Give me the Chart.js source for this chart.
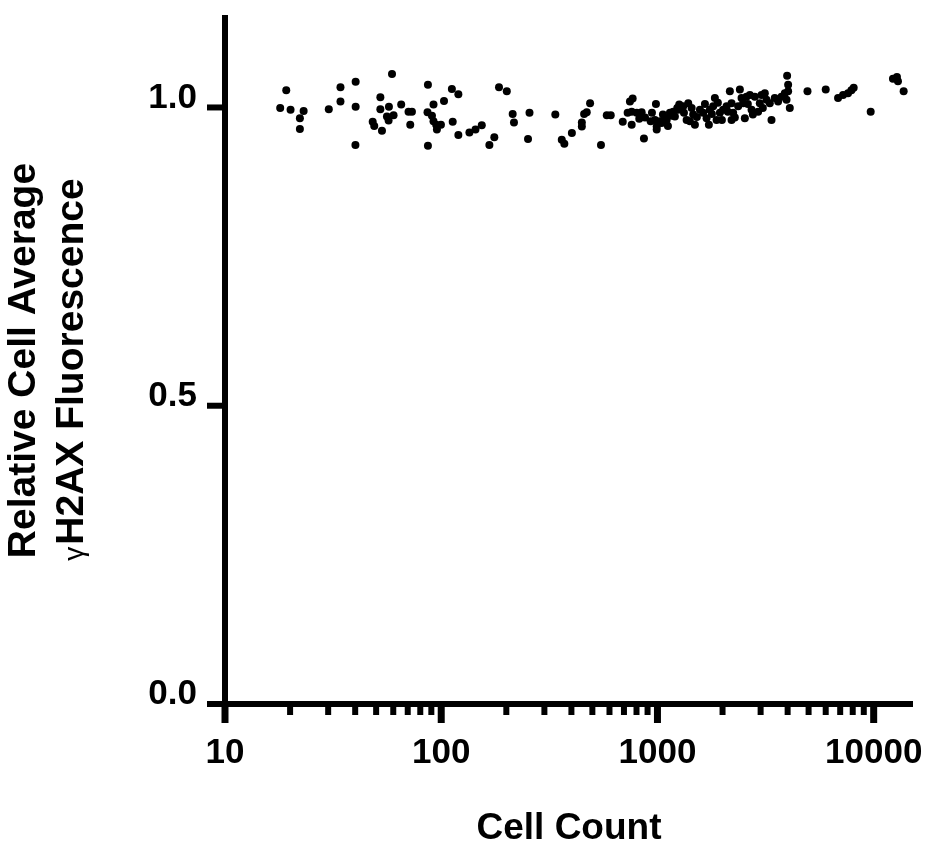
<!DOCTYPE html>
<html>
<head>
<meta charset="utf-8">
<script src="https://cdn.jsdelivr.net/npm/chart.js@4/dist/chart.umd.min.js"></script>
<style>
  html, body { margin: 0; padding: 0; background: #fff; }
  canvas { display: block; }
</style>
</head>
<body>
<canvas id="c" width="929" height="848"></canvas>
<script>
// ---- Data ----
const cellCounts = [
  19.2, 18.0, 20.1, 23.1, 22.2, 22.2, 30.2, 34.2, 34.2, 40.2,
  40.2, 40.1, 59.2, 52.3, 52.3, 57.3, 65.3, 48.2, 49.0, 53.2,
  56.1, 57.1, 60.2, 70.6, 73.2, 71.9, 86.8, 92.1, 86.4, 90.6,
  92.1, 94.8, 95.5, 99.7, 86.8, 103, 112, 120, 113, 120,
  135, 144, 154, 176, 167, 185, 201, 214, 217, 256,
  252, 337, 361, 371, 402, 447, 447, 458, 471, 488,
  548, 583, 608, 746, 768, 728, 760, 802, 845, 691,
  760, 824, 866, 984, 930, 974, 1027, 992, 992, 1046,
  1103, 1163, 1183, 1235, 1261, 1083, 1142, 1204, 1248, 1316,
  1388, 1439, 1463, 1413, 1490, 1364, 1627, 1687, 1748, 1810,
  1843, 1877, 1944, 2013, 2088, 2162, 2201, 2239, 2201, 2362,
  2405, 2449, 2491, 2536, 2582, 2675, 2724, 2821, 2921, 2974,
  3028, 3137, 3194, 3308, 3369, 3488, 3614, 3748, 3881, 3953,
  3978, 4021, 4021, 4093, 4941, 6001, 6842, 7216, 7609, 7888,
  8083, 9687, 12280, 12810, 12950, 13760,
  876, 943, 1060, 1118, 1326, 1522, 1572, 1658, 1729, 1785,
  1903, 1986, 2117, 2280, 2618, 2762, 3071
];
const fluorescence = [
  1.029, 0.999, 0.996, 0.994, 0.982, 0.964, 0.997, 1.034, 1.010, 1.043,
  1.001, 0.937, 1.056, 1.017, 0.997, 1.001, 1.005, 0.976, 0.969, 0.961,
  0.985, 0.978, 0.987, 0.993, 0.993, 0.971, 1.038, 1.005, 0.992, 0.986,
  0.977, 0.971, 0.963, 0.971, 0.936, 1.011, 1.031, 1.022, 0.976, 0.954,
  0.958, 0.963, 0.970, 0.950, 0.937, 1.034, 1.027, 0.989, 0.975, 0.991,
  0.947, 0.988, 0.946, 0.939, 0.957, 0.975, 0.968, 0.989, 0.992, 1.007,
  0.937, 0.987, 0.987, 1.010, 1.015, 0.991, 0.993, 0.991, 0.992, 0.976,
  0.971, 0.981, 0.948, 1.006, 0.977, 0.979, 0.977, 0.968, 0.963, 0.974,
  0.979, 0.986, 0.993, 0.999, 1.005, 0.982, 0.991, 0.985, 0.996, 1.002,
  1.007, 0.999, 0.988, 0.977, 0.971, 0.979, 0.991, 0.982, 0.996, 1.002,
  1.016, 0.979, 0.991, 0.996, 1.002, 1.027, 1.007, 0.991, 0.979, 1.002,
  1.030, 1.016, 1.007, 0.982, 1.018, 1.021, 0.996, 1.018, 0.993, 1.007,
  1.021, 1.024, 1.013, 1.007, 0.979, 1.016, 1.010, 1.018, 1.024, 1.013,
  1.053, 1.038, 1.027, 0.999, 1.027, 1.030, 1.016, 1.021, 1.024, 1.029,
  1.033, 0.993, 1.048, 1.051, 1.044, 1.027,
  0.983, 0.991, 0.988, 0.969, 0.991, 0.984, 0.996, 1.006, 0.971, 0.989,
  1.008, 0.979, 0.993, 0.983, 1.006, 0.988, 0.999
];
const xTickValues = [10, 100, 1000, 10000];
const xTickLabels = ['10', '100', '1000', '10000'];
const xMinorTicks = [20, 30, 40, 50, 60, 70, 80, 90,
                     200, 300, 400, 500, 600, 700, 800, 900,
                     2000, 3000, 4000, 5000, 6000, 7000, 8000, 9000];
const yTickValues = [0, 0.5, 1.0];
const yTickLabels = ['0.0', '0.5', '1.0'];
const xTitle = 'Cell Count';
const yTitleLine1 = 'Relative Cell Average';
const yTitleGreek = 'γ';
const yTitleLine2 = 'H2AX Fluorescence';

// ---- Chart ----
const FONT = '"Liberation Sans", Arial, Helvetica, sans-serif';
Chart.defaults.font.family = FONT;
Chart.defaults.color = '#000';

const prismAxes = {
  id: 'prismAxes',
  afterDraw(chart) {
    const { ctx, chartArea: a, scales: { x, y } } = chart;
    ctx.save();
    ctx.strokeStyle = '#000';
    ctx.lineCap = 'butt';
    ctx.lineWidth = 6;
    // y axis line (continues below as the first x major tick)
    ctx.beginPath();
    ctx.moveTo(a.left, a.top);
    ctx.lineTo(a.left, a.bottom + 19);
    ctx.stroke();
    // x axis line (continues left as the 0.0 tick)
    ctx.beginPath();
    ctx.moveTo(a.left - 18, a.bottom);
    ctx.lineTo(a.right, a.bottom);
    ctx.stroke();
    // y ticks
    yTickValues.forEach(v => {
      const py = y.getPixelForValue(v);
      ctx.beginPath();
      ctx.moveTo(a.left - 18, py);
      ctx.lineTo(a.left, py);
      ctx.stroke();
    });
    // x major ticks
    ctx.lineWidth = 7;
    xTickValues.forEach(v => {
      const px = x.getPixelForValue(v);
      ctx.beginPath();
      ctx.moveTo(px, a.bottom);
      ctx.lineTo(px, a.bottom + 19);
      ctx.stroke();
    });
    // x minor ticks
    ctx.lineWidth = 6;
    xMinorTicks.forEach(v => {
      const px = x.getPixelForValue(v);
      ctx.beginPath();
      ctx.moveTo(px, a.bottom);
      ctx.lineTo(px, a.bottom + 11);
      ctx.stroke();
    });

    // y axis title: two rotated lines, gamma in a smaller plain face
    const cy = (a.top + a.bottom) / 2;
    ctx.fillStyle = '#000';
    ctx.textBaseline = 'alphabetic';
    // line 1
    ctx.save();
    ctx.translate(35, cy + 1);
    ctx.rotate(-Math.PI / 2);
    ctx.font = 'bold 39px ' + FONT;
    ctx.textAlign = 'center';
    ctx.fillText(yTitleLine1, 0, 0);
    ctx.restore();
    // line 2
    ctx.save();
    ctx.translate(83, cy + 10);
    ctx.rotate(-Math.PI / 2);
    const gFont = '28px ' + FONT;
    const mFont = 'bold 39px ' + FONT;
    ctx.font = gFont;
    const wg = ctx.measureText(yTitleGreek).width;
    ctx.font = mFont;
    const wm = ctx.measureText(yTitleLine2).width;
    const gap = 2;
    const start = -(wg + gap + wm) / 2;
    ctx.textAlign = 'left';
    ctx.font = gFont;
    ctx.fillText(yTitleGreek, start, 0);
    ctx.font = mFont;
    ctx.fillText(yTitleLine2, start + wg + gap, 0);
    ctx.restore();

    ctx.restore();
  }
};

new Chart(document.getElementById('c'), {
  type: 'scatter',
  data: {
    datasets: [{
      data: cellCounts.map((v, i) => ({ x: v, y: fluorescence[i] })),
      pointRadius: 4,
      pointHoverRadius: 4,
      pointBackgroundColor: '#000',
      pointBorderWidth: 0,
      borderWidth: 0
    }]
  },
  options: {
    responsive: false,
    animation: false,
    devicePixelRatio: 1,
    layout: { padding: { top: 15, right: 16, left: 0, bottom: 0 } },
    plugins: { legend: { display: false }, tooltip: { enabled: false } },
    scales: {
      x: {
        type: 'logarithmic',
        min: 10,
        max: 15200,
        grid: { display: false, drawTicks: false },
        border: { display: false },
        afterBuildTicks: s => { s.ticks = xTickValues.map(v => ({ value: v })); },
        afterFit: s => { s.height = 144; s.paddingLeft = 0; s.paddingRight = 0; },
        ticks: {
          autoSkip: false, maxRotation: 0, minRotation: 0, padding: 28, color: '#000',
          font: { size: 35, weight: 'bold' },
          callback: (v, i) => xTickLabels[i]
        },
        title: {
          display: true, text: xTitle, color: '#000',
          font: { size: 37, weight: 'bold', lineHeight: 1 },
          padding: { top: 0, bottom: 1 }
        }
      },
      y: {
        min: 0,
        max: 1.155,
        grid: { display: false, drawTicks: false },
        border: { display: false },
        afterBuildTicks: s => { s.ticks = yTickValues.map(v => ({ value: v })); },
        afterFit: s => { s.width = 225; s.paddingTop = 0; s.paddingBottom = 0; },
        ticks: {
          autoSkip: false, padding: 28, labelOffset: -9.5, color: '#000',
          font: { size: 35, weight: 'bold' },
          callback: (v, i) => yTickLabels[i]
        },
        title: { display: false }
      }
    }
  },
  plugins: [prismAxes]
});
</script>
</body>
</html>
